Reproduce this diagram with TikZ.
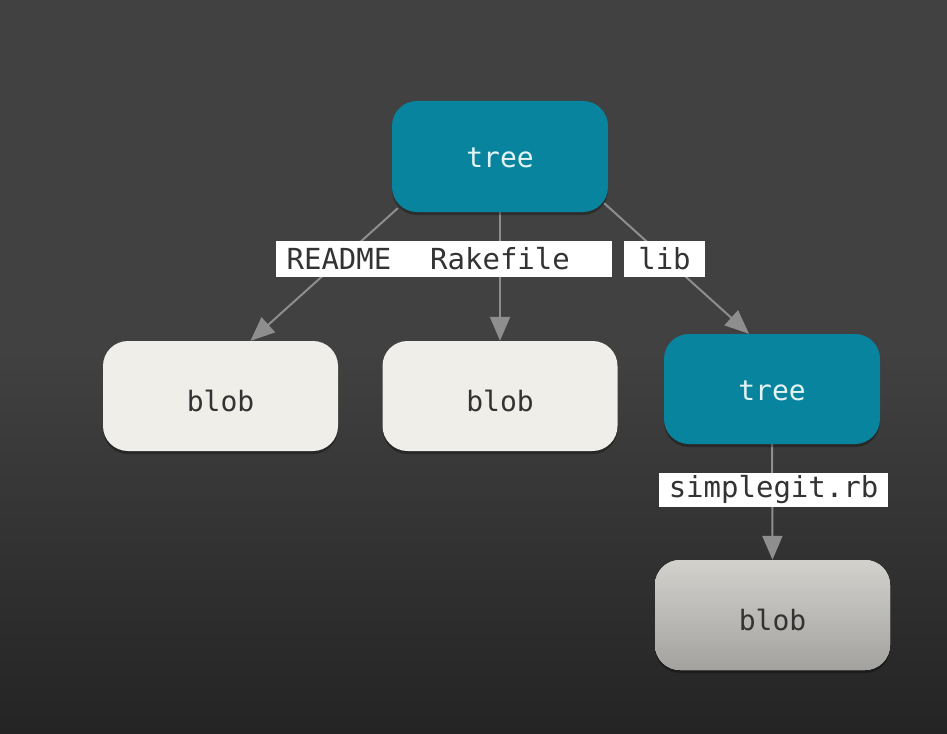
\documentclass[tikz,border=0pt]{standalone}
\usepackage{fontspec}
\setmonofont{DejaVu Sans Mono}
\usetikzlibrary{arrows.meta,calc,backgrounds,shadows}
\definecolor{bgtop}{HTML}{414141}
\definecolor{bgbot}{HTML}{242424}
\definecolor{treefill}{HTML}{08849E}
\definecolor{treetext}{HTML}{E2F3F4}
\definecolor{blobfill}{HTML}{EFEEE9}
\definecolor{blobtext}{HTML}{333333}
\definecolor{edgecol}{HTML}{8E8E8E}
\definecolor{lbltext}{HTML}{333333}
\tikzset{
  boxbase/.style={rounded corners=25pt, inner sep=0pt, minimum height=110pt,
    font=\ttfamily\fontsize{28}{32}\selectfont,
    drop shadow={shadow xshift=0pt, shadow yshift=-3pt, opacity=0.3, fill=black}},
  treebox/.style={boxbase, fill=treefill, text=treetext, minimum width=216pt,
    text height=22pt, text depth=0pt},
  blobbox/.style={boxbase, fill=blobfill, text=blobtext, minimum width=235pt,
    text height=30pt, text depth=0pt},
  edgeline/.style={draw=edgecol, line width=2pt, -{Triangle[length=24pt,width=20pt]}},
  lbl/.style={fill=white, text=lbltext, inner sep=0pt, minimum height=36pt,
    font=\ttfamily\fontsize{29}{32}\selectfont}
}
\begin{document}
\begin{tikzpicture}[x=1pt,y=-1pt]
\useasboundingbox (0,0) rectangle (947,733);
\node[treebox, minimum height=111pt] (t1) at (500,156.5) {tree};
\node[blobbox] (b1) at (220.5,396) {blob};
\node[blobbox] (b2) at (500,396) {blob};
\node[treebox] (t2) at (772,389) {tree};
\node[blobbox, top color=blobfill!88!black, bottom color=blobfill!68!black] (b3) at (772.5,615) {blob};
\begin{scope}[on background layer]
  \fill[bgtop] (0,0) rectangle (947,351);
  \shade[top color=bgtop, bottom color=bgbot] (0,350) rectangle (947,733);
  \draw[edgeline] ($(t1.south west)+(6,-4)$) -- ($(b1.north)+(30,0)$);
  \draw[edgeline] (t1.south) -- (b2.north);
  \draw[edgeline] ($(t1.south east)+(-4,-9)$) -- ($(t2.north)+(-23,0)$);
  \draw[edgeline] (t2.south) -- (b3.north);
\end{scope}
\node[lbl, minimum width=224pt] (lrake) at (500,259) {Rakefile};
\node[lbl, minimum width=126pt] (lread) at (339,259) {README};
\node[lbl, minimum width=81pt] (llib) at (664.5,259) {lib};
\node[lbl, minimum width=229pt, minimum height=34pt] (lsimple) at (773.5,490) {simplegit.rb};
\end{tikzpicture}
\end{document}
